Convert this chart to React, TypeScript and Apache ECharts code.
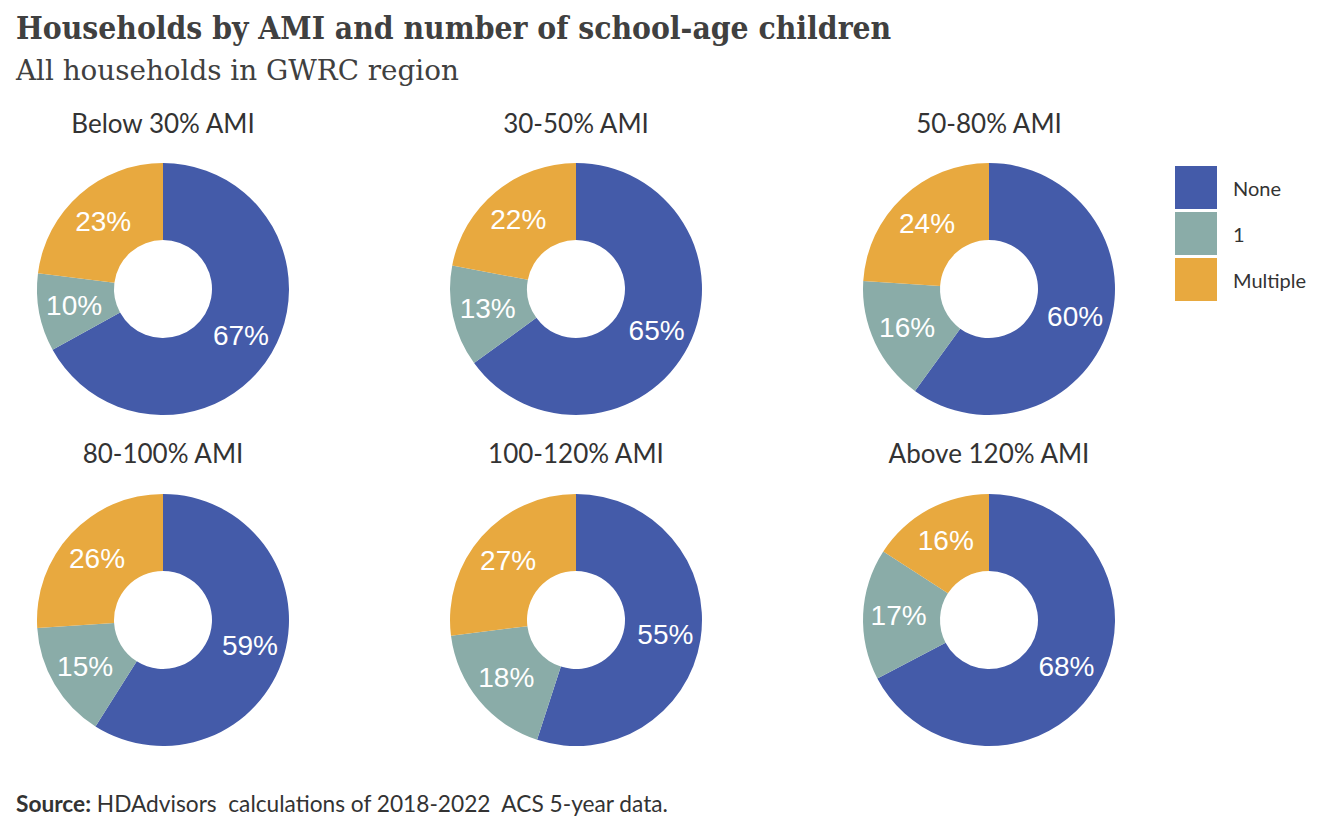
import { useEffect, useRef } from "react"
import * as echarts from "echarts"

const groups = ["Below 30% AMI", "30-50% AMI", "50-80% AMI", "80-100% AMI", "100-120% AMI", "Above 120% AMI"]
const categories = ["None", "1", "Multiple"]
const noneShare = [67, 65, 60, 59, 55, 68]
const oneShare = [10, 13, 16, 15, 18, 17]
const multipleShare = [23, 22, 24, 26, 27, 16]
const colors = ["#445BA9", "#8AACA8", "#E8A93F"]

const centersX = [163, 576, 989]
const centersY = [289, 620]

export default function App() {
  const chartRef = useRef<HTMLDivElement>(null)

  useEffect(() => {
    if (!chartRef.current) return
    document.body.style.margin = "0"
    const chart = echarts.init(chartRef.current, null, { renderer: "svg" })

    // one donut per AMI group
    const series = groups.map((g, i) => ({
      name: g,
      type: "pie",
      radius: [49, 126],
      center: [centersX[i % 3], centersY[Math.floor(i / 3)]],
      startAngle: 90,
      clockwise: true,
      silent: true,
      label: {
        show: true,
        position: "inside",
        formatter: "{c}%",
        color: "#ffffff",
        fontSize: 28,
        fontFamily: "'Liberation Sans', Arial, sans-serif",
      },
      labelLine: { show: false },
      data: categories.map((c, k) => ({
        name: c,
        value: [noneShare, oneShare, multipleShare][k][i],
        itemStyle: { color: colors[k] },
      })),
    }))

    const facetTitles = groups.map((g, i) => ({
      type: "text",
      x: centersX[i % 3],
      y: i < 3 ? 123 : 453,
      style: {
        text: g,
        fill: "#333333",
        font: "26px Lato, sans-serif",
        align: "center",
        verticalAlign: "middle",
      },
    }))

    chart.setOption({
      animation: false,
      backgroundColor: "#ffffff",
      legend: {
        orient: "vertical",
        left: 1175,
        top: 166,
        padding: 0,
        itemWidth: 42,
        itemHeight: 43,
        itemGap: 3,
        icon: "rect",
        selectedMode: false,
        data: categories,
        textStyle: {
          fontFamily: "Lato, sans-serif",
          fontSize: 20,
          color: "#333333",
          padding: [0, 0, 0, 11],
        },
      },
      series,
      graphic: [
        {
          type: "text",
          x: 16,
          y: 27,
          style: {
            text: "Households by AMI and number of school-age children",
            fill: "#404040",
            font: "bold 31.5px 'DejaVu Serif Condensed', 'DejaVu Serif', serif",
            verticalAlign: "middle",
          },
        },
        {
          type: "text",
          x: 16,
          y: 70,
          style: {
            text: "All households in GWRC region",
            fill: "#404040",
            font: "27.8px 'DejaVu Serif', serif",
            verticalAlign: "middle",
          },
        },
        ...facetTitles,
        {
          type: "text",
          x: 16,
          y: 803,
          style: {
            text: "{b|Source:} HDAdvisors  calculations of 2018-2022  ACS 5-year data.",
            fill: "#333333",
            font: "22.7px Lato, sans-serif",
            verticalAlign: "middle",
            rich: {
              b: { fontWeight: "bold", fontSize: 22.7, fontFamily: "Lato, sans-serif", fill: "#333333" },
            },
          },
        },
      ],
    })

    return () => {
      chart.dispose()
    }
  }, [])

  return <div ref={chartRef} style={{ width: 1344, height: 830 }} />
}
